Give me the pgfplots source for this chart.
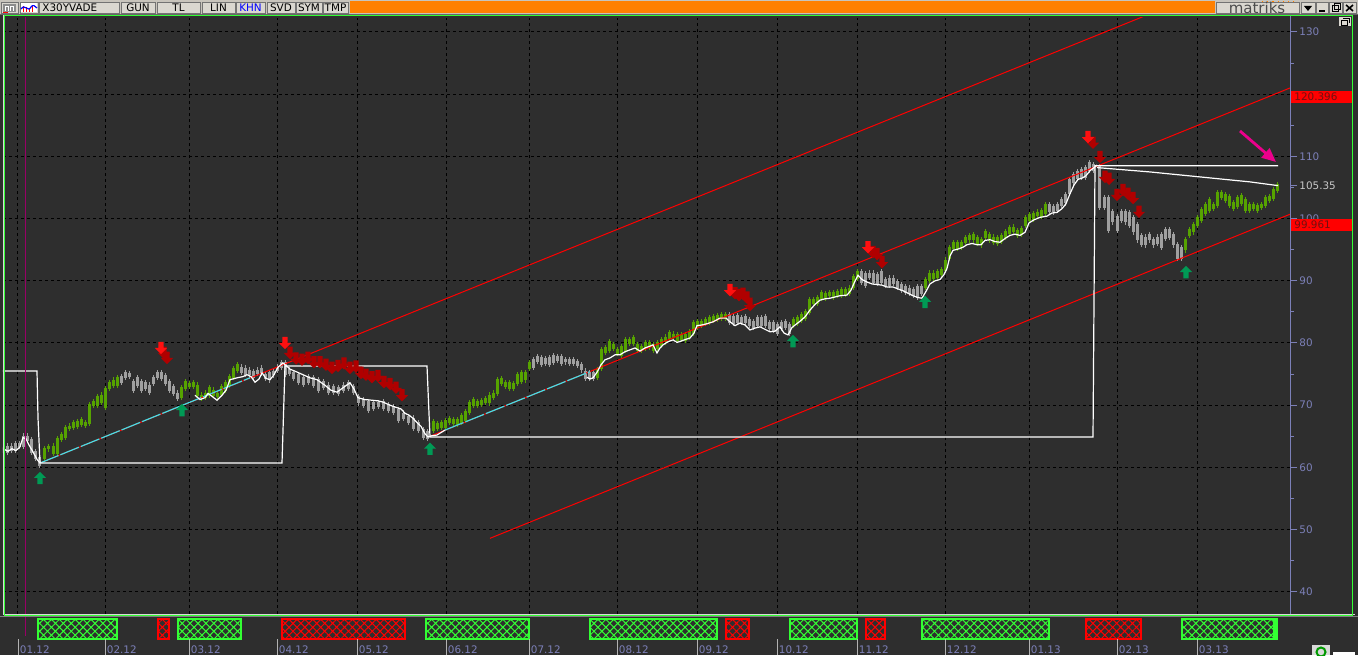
\documentclass[border=0pt]{standalone}
\usepackage{pgfplots}
\usepackage{pgfplotstable}
\pgfplotsset{compat=1.18}
\usepackage{fontspec}
\setmainfont{DejaVu Sans}
\usetikzlibrary{patterns.meta,arrows.meta}
\definecolor{bgc}{HTML}{2E2E2E}
\definecolor{cgreen}{HTML}{56A300}
\definecolor{cgray}{HTML}{A0A0A0}
\definecolor{axisblue}{HTML}{7C80B8}
\definecolor{upgreen}{HTML}{009A55}
\definecolor{dnred}{HTML}{B00000}
\definecolor{brred}{HTML}{FF1010}
\definecolor{cyanl}{HTML}{40E0E8}
\definecolor{btn}{HTML}{DAD7D0}
\definecolor{tbar}{HTML}{C8C4BC}
\definecolor{orng}{HTML}{FF8000}
\definecolor{lime}{HTML}{33FF33}
\definecolor{labgray}{HTML}{C8C8C8}
\definecolor{boxtxt}{HTML}{701010}
\newcommand{\uif}{\fontsize{5.2}{6}\selectfont}

\pgfdeclareplotmark{uparr}{%
 \pgfpathmoveto{\pgfqpoint{-3.1pt}{0pt}}%
 \pgfpathlineto{\pgfqpoint{0pt}{3.1pt}}%
 \pgfpathlineto{\pgfqpoint{3.1pt}{0pt}}%
 \pgfpathlineto{\pgfqpoint{1.3pt}{0pt}}%
 \pgfpathlineto{\pgfqpoint{1.3pt}{-3.1pt}}%
 \pgfpathlineto{\pgfqpoint{-1.3pt}{-3.1pt}}%
 \pgfpathlineto{\pgfqpoint{-1.3pt}{0pt}}%
 \pgfpathclose\pgfusepathqfill}
\pgfdeclareplotmark{dnarr}{%
 \pgfpathmoveto{\pgfqpoint{-3.1pt}{0pt}}%
 \pgfpathlineto{\pgfqpoint{0pt}{-3.1pt}}%
 \pgfpathlineto{\pgfqpoint{3.1pt}{0pt}}%
 \pgfpathlineto{\pgfqpoint{1.3pt}{0pt}}%
 \pgfpathlineto{\pgfqpoint{1.3pt}{3.1pt}}%
 \pgfpathlineto{\pgfqpoint{-1.3pt}{3.1pt}}%
 \pgfpathlineto{\pgfqpoint{-1.3pt}{0pt}}%
 \pgfpathclose\pgfusepathqfill}

\pgfplotstableread{
x o c
45 61.4 63.0
49 63.0 63.3
53 62.3 63.4
57 62.3 64.6
61 64.6 65.2
65 64.9 66.3
69 66.3 66.6
73 66.5 67.1
77 66.6 67.3
81 67.0 67.6
85 66.8 67.1
89 67.1 70.0
93 70.0 70.5
97 70.0 71.3
101 70.5 71.6
105 69.7 72.6
109 72.8 73.6
113 73.2 74.0
117 73.2 74.4
181 71.3 72.8
185 72.8 73.7
189 73.1 73.4
193 73.1 73.6
197 71.6 73.2
201 71.1 71.6
205 71.3 71.9
209 71.6 72.8
213 71.6 72.4
217 71.5 71.8
221 71.8 72.9
225 72.4 73.6
229 73.2 74.5
233 74.5 75.8
237 75.6 76.5
433 66.0 67.3
437 66.3 67.0
441 66.5 67.1
445 66.5 67.5
449 67.3 67.8
453 67.1 67.6
457 67.0 67.6
461 67.3 68.3
465 67.6 68.9
469 68.9 70.4
473 70.0 70.8
477 70.0 70.5
481 70.2 70.7
485 70.5 71.0
489 70.4 71.6
493 71.3 71.9
497 71.9 74.1
501 73.6 74.2
505 73.1 73.6
509 72.8 73.6
513 72.8 73.4
517 73.6 74.9
521 73.9 75.2
525 74.1 75.2
529 76.0 76.8
597 74.5 75.7
601 76.0 78.9
605 78.5 79.2
609 78.9 80.2
613 79.2 79.7
617 78.4 78.9
621 78.1 79.4
625 78.9 80.5
629 80.0 80.5
633 80.0 80.8
637 78.9 79.7
641 78.9 79.4
645 79.2 80.0
649 79.4 80.0
653 78.9 79.7
657 79.2 80.0
661 79.7 80.5
665 80.2 80.9
669 80.8 81.6
673 81.0 81.4
677 80.5 81.3
681 80.6 81.3
685 80.5 81.3
689 81.0 81.8
693 81.6 83.2
697 82.6 83.4
701 82.9 83.4
705 83.2 83.7
709 83.4 84.0
713 83.7 84.2
717 83.9 84.4
721 84.0 84.5
725 84.0 84.5
793 82.9 83.7
797 83.2 84.0
801 83.7 84.5
805 84.0 85.0
809 85.0 86.9
813 86.4 86.9
817 86.4 87.2
821 87.2 88.0
825 87.2 87.9
829 87.6 88.0
833 87.4 88.0
837 87.7 88.2
841 87.7 88.5
845 87.9 88.5
849 88.0 88.8
853 89.0 90.6
857 90.4 91.4
925 89.0 90.1
929 90.1 91.2
933 90.4 91.2
937 90.6 91.4
941 91.1 91.7
945 91.7 93.3
949 93.7 95.3
953 95.3 96.1
957 95.3 96.1
961 95.4 96.1
965 96.2 96.9
969 96.6 97.2
973 96.6 97.4
977 96.1 96.9
981 95.8 96.6
985 97.0 97.9
989 96.6 97.4
993 96.2 97.0
997 96.1 96.9
1001 96.4 97.2
1005 97.0 97.9
1009 97.7 98.5
1013 97.9 98.6
1017 97.4 98.0
1021 97.5 98.3
1025 99.0 100.1
1029 99.8 100.6
1033 99.9 100.7
1037 100.6 101.0
1041 100.4 101.2
1045 100.9 102.2
1185 95.0 96.6
1189 97.4 98.2
1193 97.9 99.0
1197 99.0 100.1
1201 99.8 101.4
1205 100.9 102.2
1209 101.4 103.0
1213 101.7 102.2
1217 102.2 104.1
1221 103.5 104.1
1225 103.0 103.8
1229 102.2 103.5
1233 101.7 102.5
1237 102.0 103.3
1241 102.5 103.6
1245 101.4 103.0
1249 101.4 102.2
1253 101.7 102.2
1257 101.4 102.0
1261 101.9 102.2
1265 102.2 103.3
1269 103.0 103.5
1273 103.3 104.6
1277 104.6 105.4
}\greenC

\pgfplotstableread{
x o c
4 63.1 62.5
8 62.5 63.4
12 63.4 62.8
16 62.8 63.8
20 63.8 63.4
24 63.4 65.0
28 65.0 64.4
32 64.4 62.5
36 62.5 61.5
40 61.5 60.4
121 74.5 73.7
125 75.2 74.5
129 74.7 75.0
133 73.7 72.4
137 74.4 73.2
141 73.7 72.4
145 73.6 72.8
149 73.2 72.1
153 73.6 74.4
157 74.5 75.2
161 75.2 74.4
165 74.7 73.6
169 73.7 72.4
173 72.9 71.9
177 71.9 71.1
241 76.1 75.3
245 75.9 75.0
249 75.6 74.9
253 75.3 74.5
257 75.6 75.2
261 75.9 75.2
265 74.9 74.4
269 75.2 74.1
273 75.3 74.9
277 76.1 75.6
281 76.8 76.1
285 76.8 75.0
289 75.7 75.2
293 75.2 74.4
298 74.9 73.7
303 74.4 73.4
308 74.5 73.7
313 74.4 73.2
318 74.1 72.4
323 73.7 72.9
328 73.2 72.1
333 72.9 72.1
338 72.8 71.9
343 73.2 72.4
348 73.6 72.8
353 72.9 72.1
358 71.3 70.4
363 70.8 70.0
368 70.5 69.2
373 70.4 69.5
378 70.4 69.9
383 70.5 69.5
388 70.0 69.2
393 69.7 68.9
398 69.2 67.6
403 68.7 67.9
408 68.1 67.3
413 67.9 66.3
418 67.1 66.0
423 66.0 64.9
427 65.7 64.7
533 77.3 76.1
537 77.8 77.1
541 77.6 76.6
545 77.4 76.8
549 77.6 76.6
553 77.9 76.9
557 77.8 77.3
561 77.8 76.8
565 77.3 77.0
569 77.3 76.8
573 77.3 76.8
577 77.0 76.5
581 76.5 75.7
585 75.4 74.4
589 75.2 74.4
593 75.2 74.4
729 84.5 83.4
733 84.2 83.2
737 84.4 83.4
741 84.0 83.4
745 84.2 83.4
749 83.7 82.9
753 83.4 82.6
757 84.0 82.9
761 84.0 82.9
765 84.2 82.9
769 83.2 82.4
773 83.2 82.1
777 82.9 81.6
781 83.2 82.4
785 83.4 82.6
789 82.9 81.6
861 91.4 89.8
865 91.1 89.3
869 91.2 90.6
873 91.2 89.8
877 90.9 89.6
881 91.4 89.8
885 90.1 89.3
889 90.4 89.3
893 90.4 89.6
897 89.8 89.0
901 89.3 88.5
905 89.0 88.2
909 88.8 88.0
913 88.5 87.7
917 89.0 87.4
921 89.0 88.0
1049 102.2 101.1
1053 101.9 101.1
1057 102.2 101.4
1061 103.0 102.2
1065 103.8 102.6
1069 106.2 104.1
1073 107.0 105.9
1077 107.5 106.5
1081 107.8 106.7
1085 108.1 106.7
1089 108.9 107.8
1093 108.6 107.8
1099 108.3 101.9
1104 103.3 101.9
1108 103.3 98.2
1112 101.1 99.5
1117 100.3 98.2
1121 101.1 99.8
1125 101.1 99.5
1129 100.9 99.0
1133 100.1 97.9
1137 99.0 96.6
1141 97.2 95.9
1145 97.0 95.8
1149 97.4 96.6
1153 96.6 95.8
1157 97.0 96.1
1161 97.4 95.4
1165 98.2 96.9
1169 98.2 97.0
1173 97.4 95.8
1177 95.8 93.7
1181 95.3 93.7
}\grayC

\begin{document}
\begin{tikzpicture}
\path[use as bounding box] (0,0) rectangle (679pt,327.5pt);
\fill[bgc] (0,0) rectangle (679pt,327.5pt);

% ---------------- main price axis ----------------
\begin{axis}[at={(1.5pt,20.5pt)}, anchor=south west, scale only axis,
  width=643.5pt, height=298pt,
  xmin=3, xmax=1290, ymin=36.43, ymax=132.25,
  axis line style={draw=none},
  xtick={18,105,189,277,357,446,529,617,697,777,857,945,1029,1117,1197},
  xticklabels={}, x tick style={draw=none},
  ytick={40,50,60,70,80,90,100,110,120,130},
  yticklabels={40,50,60,70,80,90,100,110,{},130},
  minor ytick={45,55,65,75,85,95,105,115,125},
  ytick pos=right, yticklabel pos=right, tick align=outside,
  major tick length=3.5pt, minor tick length=2pt,
  y tick style={axisblue, line width=0.5pt},
  yticklabel style={text=axisblue, font=\uif, inner sep=1pt},
  extra y ticks={105.35}, extra y tick labels={105.35},
  extra y tick style={grid=none, yticklabel style={text=labgray}},
  xmajorgrids, ymajorgrids,
  major grid style={black, dash pattern=on 1.5pt off 1.5pt, line width=0.5pt},
]
% candle wicks and bodies
\addplot[mark=none, draw=none, forget plot, error bars/.cd, y dir=both, y explicit, error mark=none,
  error bar style={draw=cgray, line width=0.5pt, solid}]
  table[x=x, y expr={(\thisrow{o}+\thisrow{c})/2}, y error expr={abs(\thisrow{c}-\thisrow{o})/2+0.5}] {\grayC};
\addplot[mark=none, draw=none, forget plot, error bars/.cd, y dir=both, y explicit, error mark=none,
  error bar style={draw=cgray, line width=1.5pt, solid}]
  table[x=x, y expr={(\thisrow{o}+\thisrow{c})/2}, y error expr={abs(\thisrow{c}-\thisrow{o})/2+0.12}] {\grayC};
\addplot[mark=none, draw=none, forget plot, error bars/.cd, y dir=both, y explicit, error mark=none,
  error bar style={draw=cgreen, line width=0.5pt, solid}]
  table[x=x, y expr={(\thisrow{o}+\thisrow{c})/2}, y error expr={abs(\thisrow{c}-\thisrow{o})/2+0.5}] {\greenC};
\addplot[mark=none, draw=none, forget plot, error bars/.cd, y dir=both, y explicit, error mark=none,
  error bar style={draw=cgreen, line width=1.5pt, solid}]
  table[x=x, y expr={(\thisrow{o}+\thisrow{c})/2}, y error expr={abs(\thisrow{c}-\thisrow{o})/2+0.12}] {\greenC};

% channel lines
\addplot[red, line width=0.5pt] coordinates {(40,60.7) (1165,133.9)};
\addplot[red, line width=0.5pt] coordinates {(430,65.0) (1290,121.0)};
\addplot[red, line width=0.5pt] coordinates {(490,48.6) (1290,100.7)};
\addplot[cyanl, line width=0.6pt, dash pattern=on 10pt off 1pt] coordinates {(40,60.7) (250,74.4)};
\addplot[cyanl, line width=0.6pt, dash pattern=on 10pt off 1pt] coordinates {(445,66.0) (590,75.4)};

% white support/resistance steps
\addplot[white, line width=0.6pt] coordinates {(3,75.5) (37,75.5) (38,68.0) (40,60.7) (282,60.7) (285,76.3) (427,76.3) (430,64.9) (1093,64.9) (1095,108.5) (1278,108.5)};
\addplot[white, line width=0.6pt] coordinates {(1097,108.2) (1150,107.5) (1200,106.7) (1250,105.9) (1278,105.3)};
% white trailing line
\addplot[white, line width=0.6pt] coordinates {(3,63.0) (8,62.6) (12,63.0) (16,62.7) (20,63.3) (23,64.8) (26,64.6) (29,63.6) (33,62.5) (37,61.3) (40,60.7)};
\addplot[white, line width=0.6pt] coordinates {(195,71.6) (200,70.9) (205,71.2) (208,71.9) (213,71.3) (217,70.8) (222,71.6) (226,72.4) (230,74.1) (237,74.4) (243,74.6) (247,74.9) (251,74.6) (255,73.7) (259,74.2) (262,75.2) (266,74.3) (270,74.1) (274,74.9) (278,76.1) (283,76.8) (290,75.8) (296,75.4) (303,74.9) (310,74.4) (317,74.1) (325,73.2) (331,72.4) (337,72.1) (343,72.8) (350,73.6) (354,72.6) (358,71.2) (365,70.9) (372,70.8) (378,70.7) (383,70.5) (390,70.0) (397,69.6) (401,69.4) (405,68.7) (409,68.4) (413,67.9) (417,67.2) (421,66.6) (425,65.4) (428,64.9) (432,65.1) (437,65.2) (445,66.0)};
\addplot[white, line width=0.6pt] coordinates {(587,74.5) (590,74.2) (593,74.4) (597,75.3) (601,76.5) (605,77.3) (610,77.6) (615,78.1) (620,78.1) (625,78.6) (630,78.9) (635,79.2) (640,78.7) (645,79.2) (650,79.5) (653,79.7) (657,78.4) (660,79.2) (663,79.7) (668,80.2) (673,80.5) (677,80.1) (681,80.3) (686,80.6) (690,80.8) (694,81.6) (697,82.8) (702,82.9) (707,83.1) (713,83.4) (720,84.0) (726,84.0) (730,83.4) (735,82.8) (740,83.2) (745,82.9) (750,82.1) (755,82.4) (760,82.6) (765,82.2) (770,81.8) (775,81.9) (780,82.6) (784,81.6) (788,81.3) (792,82.5) (796,83.0) (800,83.5) (805,84.2) (810,85.3) (815,86.2) (820,86.9) (825,87.1) (830,87.2) (835,87.4) (840,87.6) (847,87.7) (851,88.5) (854,89.6) (858,90.9) (862,90.2) (867,89.8) (872,89.5) (877,89.4) (882,89.3) (887,89.0) (893,89.0) (898,88.7) (903,88.4) (908,88.0) (913,87.6) (918,87.3) (922,87.2) (926,88.3) (930,89.5) (935,90.0) (940,90.2) (944,91.0) (947,92.0) (950,94.0) (953,94.9) (958,95.1) (963,95.4) (967,95.8) (972,96.0) (977,95.8) (981,95.8) (985,96.5) (990,96.6) (995,96.3) (1000,96.2) (1005,96.8) (1010,97.3) (1015,97.5) (1020,97.3) (1025,97.8) (1029,99.3) (1034,99.8) (1040,100.2) (1047,100.4) (1052,100.9) (1057,101.0) (1062,101.6) (1066,102.4) (1070,104.0) (1074,105.4) (1078,106.3) (1082,106.5) (1086,106.9) (1090,107.7) (1094,108.2) (1097,108.6)};

% signal arrows
\addplot[only marks, mark=uparr, mark options={draw=none, fill=upgreen}] coordinates {(40,58.3) (182,69.2) (430,63.0) (793,80.3) (925,86.6) (1186,91.4)};
\addplot[only marks, mark=dnarr, mark options={draw=none, fill=dnred}] coordinates {
(164,78.4) (167,77.6)
(290,78.4) (296,77.5) (302,77.3) (308,77.6) (314,76.9) (320,76.9) (326,76.5) (332,76.0) (338,76.3) (344,76.7) (350,76.0) (356,76.2) (361,75.2) (366,74.9) (372,74.5) (378,74.7) (384,73.7) (390,73.4) (396,72.8) (402,71.6)
(735,88.0) (739,87.7) (743,87.9) (747,87.3) (750,86.1)
(873,94.6) (877,94.3) (882,93.0)
(1093,112.2) (1100,109.9) (1105,106.7) (1109,106.4) (1117,103.8) (1123,104.6) (1128,104.0) (1133,103.3) (1139,101.1)};
\addplot[only marks, mark=dnarr, mark options={draw=none, fill=brred}] coordinates {(161,79.2) (285,80.0) (730,88.5) (868,95.4) (1088,113.1)};
\end{axis}

% ---------------- bottom signal strip ----------------
\begin{axis}[at={(1.5pt,0pt)}, anchor=south west, scale only axis,
  width=643.5pt, height=19.5pt, xmin=3, xmax=1290, ymin=0, ymax=39, hide axis, clip=false]
\pgfplotsset{gbar/.style={draw=lime, line width=0.6pt, pattern={Hatch[angle=45,distance=2.8pt,line width=0.5pt]}, pattern color=lime},
             rbar/.style={draw=red, line width=0.6pt, pattern={Hatch[angle=45,distance=2.8pt,line width=0.5pt]}, pattern color=red}}
\addplot[gbar] coordinates {(38,16) (117,16) (117,36) (38,36)} -- cycle;
\addplot[rbar] coordinates {(158,16) (169,16) (169,36) (158,36)} -- cycle;
\addplot[gbar] coordinates {(178,16) (241,16) (241,36) (178,36)} -- cycle;
\addplot[rbar] coordinates {(282,16) (405,16) (405,36) (282,36)} -- cycle;
\addplot[gbar] coordinates {(426,16) (529,16) (529,36) (426,36)} -- cycle;
\addplot[gbar] coordinates {(590,16) (717,16) (717,36) (590,36)} -- cycle;
\addplot[rbar] coordinates {(726,16) (749,16) (749,36) (726,36)} -- cycle;
\addplot[gbar] coordinates {(790,16) (857,16) (857,36) (790,36)} -- cycle;
\addplot[rbar] coordinates {(866,16) (885,16) (885,36) (866,36)} -- cycle;
\addplot[gbar] coordinates {(922,16) (1049,16) (1049,36) (922,36)} -- cycle;
\addplot[rbar] coordinates {(1086,16) (1141,16) (1141,36) (1086,36)} -- cycle;
\addplot[gbar] coordinates {(1182,16) (1277,16) (1277,36) (1182,36)} -- cycle;
\addplot[fill=lime, draw=lime] coordinates {(1273,16) (1277,16) (1277,36) (1273,36)} -- cycle;
\end{axis}

% ---------------- frame, toolbar, labels (pixel scope) ----------------
\begin{scope}[yshift=327.5pt, x=0.5pt, y=-0.5pt]
% right axis line
\draw[axisblue, line width=0.5pt] (1290,16) -- (1290,614);
% price label boxes
\fill[red] (1291,91) rectangle (1352,103);
\node[anchor=west, inner sep=0pt, text=boxtxt, font=\uif] at (1294,97) {120.396};
\fill[red] (1291,219) rectangle (1352,231);
\node[anchor=west, inner sep=0pt, text=boxtxt, font=\uif] at (1294,225) {99.961};
% magenta marker arrow
\draw[magenta, line width=1.4pt, -{Triangle[length=7pt,width=6pt]}] (1240,131) -- (1276,162);
% purple cursor line
\draw[violet!80!red, line width=0.5pt] (25,17) -- (25,636);
% frames
\draw[white!85!black, line width=0.5pt] (3,15) -- (3,614) -- (1355,614);
\draw[lime, line width=0.5pt] (4.5,16) rectangle (1352,615);
\draw[gray, line width=0.5pt] (0,616.5) -- (1358,616.5);
% month ticks and labels
\foreach \xx/\ll in {18/01.12,105/02.12,189/03.12,277/04.12,357/05.12,446/06.12,529/07.12,617/08.12,697/09.12,777/10.12,857/11.12,945/12.12,1029/01.13,1117/02.13,1197/03.13}{
  \draw[gray!60!white, line width=0.5pt] (\xx,639) -- (\xx,655);
  \node[anchor=west, inner sep=0pt, text=axisblue, font=\uif] at (\xx+1.5,650) {\ll};
}
% bottom right icons
\fill[white!85!black] (1312,645) rectangle (1330,655);
\draw[green!60!black, line width=1pt] (1321,652) circle (4.5);
\fill[white] (1333,652) rectangle (1355,655);
% toolbar
\fill[tbar] (0,0) rectangle (1358,14.5);
\draw[black!60, line width=0.5pt] (0,14.5) -- (1358,14.5);
\foreach \a/\b in {1/18,20/38,39/119,121/155,157/200,202/235,236/265,267/295,296/322,323/348,1216/1299,1301/1315,1316/1328,1329/1342,1343/1356}{
  \fill[btn] (\a,2) rectangle (\b,13.5);
  \draw[black!55, line width=0.4pt] (\a,2) rectangle (\b,13.5);
}
\fill[orng] (350,1.5) rectangle (1215,13.5);
% icon 1
\fill[black!45] (3,4) rectangle (16,12);
\draw[white, line width=0.4pt] (5,11) -- (5,6) -- (8,6) -- (8,11) (10,11) -- (10,6) -- (13,6) -- (13,11);
\fill[red] (3,12) rectangle (8,13);
% icon 2
\fill[white] (21,3.5) rectangle (37,12.5);
\draw[red, line width=0.5pt] (23,6) -- (23,12) (26,7) -- (26,12) (29,8) -- (29,12) (32,6) -- (32,12);
\draw[blue, line width=0.6pt] (21,9) .. controls (25,3) and (28,13) .. (31,7) .. controls (33,4) and (35,6) .. (37,8);
% button texts
\node[anchor=west, inner sep=0pt, font=\uif] at (42,8) {X30YVADE};
\node[inner sep=0pt, font=\uif] at (138,8) {GUN};
\node[inner sep=0pt, font=\uif] at (178.5,8) {TL};
\node[inner sep=0pt, font=\uif] at (218.5,8) {LIN};
\node[inner sep=0pt, font=\uif, text=blue] at (250.5,8) {KHN};
\node[inner sep=0pt, font=\uif] at (281,8) {SVD};
\node[inner sep=0pt, font=\uif] at (309,8) {SYM};
\node[inner sep=0pt, font=\uif] at (335.5,8) {TMP};
\node[inner sep=0pt, font=\fontsize{7.5}{8}\selectfont, text=black!70] at (1257,8) {matriks};
\draw[orng, dotted, line width=0.6pt] (1262,1.5) -- (1297,1.5);
\fill[black] (1304,6) -- (1312,6) -- (1308,11) -- cycle;
\draw[black, line width=0.8pt] (1319,11) -- (1325,11);
\draw[black, line width=0.5pt] (1332,6) rectangle (1338,12) (1334,4) rectangle (1340,10);
\draw[black, line width=0.8pt] (1346,5) -- (1353,11) (1346,11) -- (1353,5);
% small restore icon top right of chart
\fill[btn] (1339,17) rectangle (1351,26);
\draw[black, line width=0.4pt] (1341,20) rectangle (1347,25) (1343,18.5) -- (1349,18.5) -- (1349,23);
\end{scope}
\end{tikzpicture}
\end{document}
